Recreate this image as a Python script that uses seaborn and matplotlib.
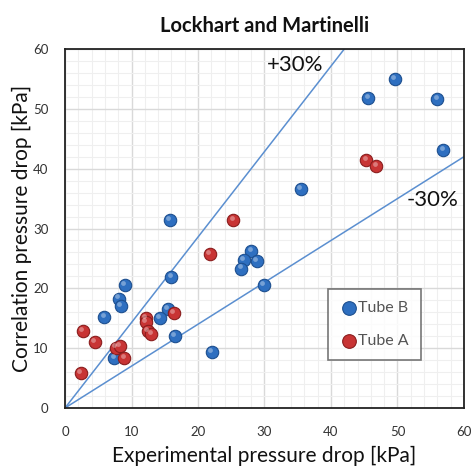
import matplotlib
matplotlib.use("Agg")
import matplotlib.pyplot as plt
import seaborn as sns
import pandas as pd
import numpy as np

# Data
tube_b_x = [15.8, 16.0, 9.0, 8.1, 8.4, 5.9, 15.5, 14.3, 16.5, 7.4, 22.1, 28.0, 26.9, 28.8, 26.5, 29.9,
            49.6, 45.6, 56.0, 56.9, 35.5]
tube_b_y = [31.4, 21.9, 20.6, 18.3, 17.1, 15.2, 16.5, 15.1, 12.0, 8.3, 9.3, 26.3, 24.7, 24.6, 23.3, 20.6,
            55.0, 51.8, 51.6, 43.1, 36.6]
tube_a_x = [25.3, 21.8, 16.4, 12.2, 12.2, 12.5, 13.0, 2.7, 4.5, 7.6, 8.2, 8.9, 2.4, 45.3, 46.8]
tube_a_y = [31.4, 25.7, 15.8, 15.0, 14.3, 12.8, 12.3, 12.9, 11.0, 10.1, 10.4, 8.3, 5.8, 41.5, 40.4]
series_names = ["Tube B", "Tube A"]
ticks = [0, 10, 20, 30, 40, 50, 60]
band_factors = [1 / 0.7, 0.7]
band_labels = ["+30%", "-30%"]

df = pd.concat([
    pd.DataFrame({"x": tube_b_x, "y": tube_b_y, "series": series_names[0]}),
    pd.DataFrame({"x": tube_a_x, "y": tube_a_y, "series": series_names[1]}),
])

sns.set_style("white")
plt.rcParams["font.family"] = ["Lato", "DejaVu Sans"]

fig = plt.figure(figsize=(4.72, 4.67), dpi=100)
ax = fig.add_axes([65 / 472, 1 - 408 / 467, (464 - 65) / 472, (408 - 49) / 467])

# grid
ax.set_xlim(0, 60)
ax.set_ylim(0, 60)
ax.set_xticks(ticks)
ax.set_yticks(ticks)
ax.set_xticks(np.arange(0, 61, 2), minor=True)
ax.set_yticks(np.arange(0, 61, 2), minor=True)
ax.grid(which="major", color="#d9d9d9", lw=1.0, zorder=0)
ax.grid(which="minor", color="#efefef", lw=0.8, zorder=0)
ax.set_axisbelow(True)
ax.tick_params(which="both", length=0)
ax.tick_params(labelsize=9.5, colors="#333333")
ax.tick_params(axis="y", pad=12)
ax.tick_params(axis="x", pad=13)

# +/-30% lines
xs = np.array([0, 60])
for f in band_factors:
    sns.lineplot(x=xs, y=xs * f, ax=ax, color="#5b8fd0", lw=1.1, zorder=2)

palette = {"Tube B": "#2e6fc0", "Tube A": "#c83434"}
edges = {"Tube B": "#1d4f8f", "Tube A": "#8a1d1d"}
for name in series_names:
    sub = df[df["series"] == name]
    sns.scatterplot(data=sub, x="x", y="y", ax=ax, color=palette[name], s=80,
                    edgecolor=edges[name], linewidth=0.8, zorder=3, label=name)
# highlight
for name in series_names:
    sub = df[df["series"] == name]
    ax.scatter(sub["x"] - 0.25, sub["y"] + 0.35, s=12, color="white", alpha=0.35,
               linewidths=0, zorder=4)

ax.text(34.6, 57.4, band_labels[0], fontsize=16, ha="center", va="center", color="#111111")
ax.text(55.2, 34.8, band_labels[1], fontsize=16, ha="center", va="center", color="#111111")

for s in ax.spines.values():
    s.set_visible(True)
    s.set_color("#222222")
    s.set_linewidth(1.3)

ax.set_xlabel("Experimental pressure drop [kPa]", fontsize=15, color="#111111")
ax.set_ylabel("Correlation pressure drop [kPa]", fontsize=15, color="#111111")
ax.xaxis.set_label_coords(0.5, (408 - 446) / 359)
ax.yaxis.set_label_coords((32 - 65) / 399, 0.5)
ax.set_title("Lockhart and Martinelli", fontsize=14.5, fontweight="bold", pad=12, color="#111111")

leg = ax.legend(loc="upper left", bbox_to_anchor=(263 / 399, 1 - (289 - 49) / 359),
                frameon=True, fancybox=False, edgecolor="#555555", fontsize=11.5,
                handletextpad=0.05, labelspacing=1.15, borderpad=0.75, handlelength=1.1,
                markerscale=1.1, borderaxespad=0)
leg.get_frame().set_linewidth(1.2)
for t in leg.get_texts():
    t.set_color("#555555")

fig.savefig("out.png", dpi=100)
